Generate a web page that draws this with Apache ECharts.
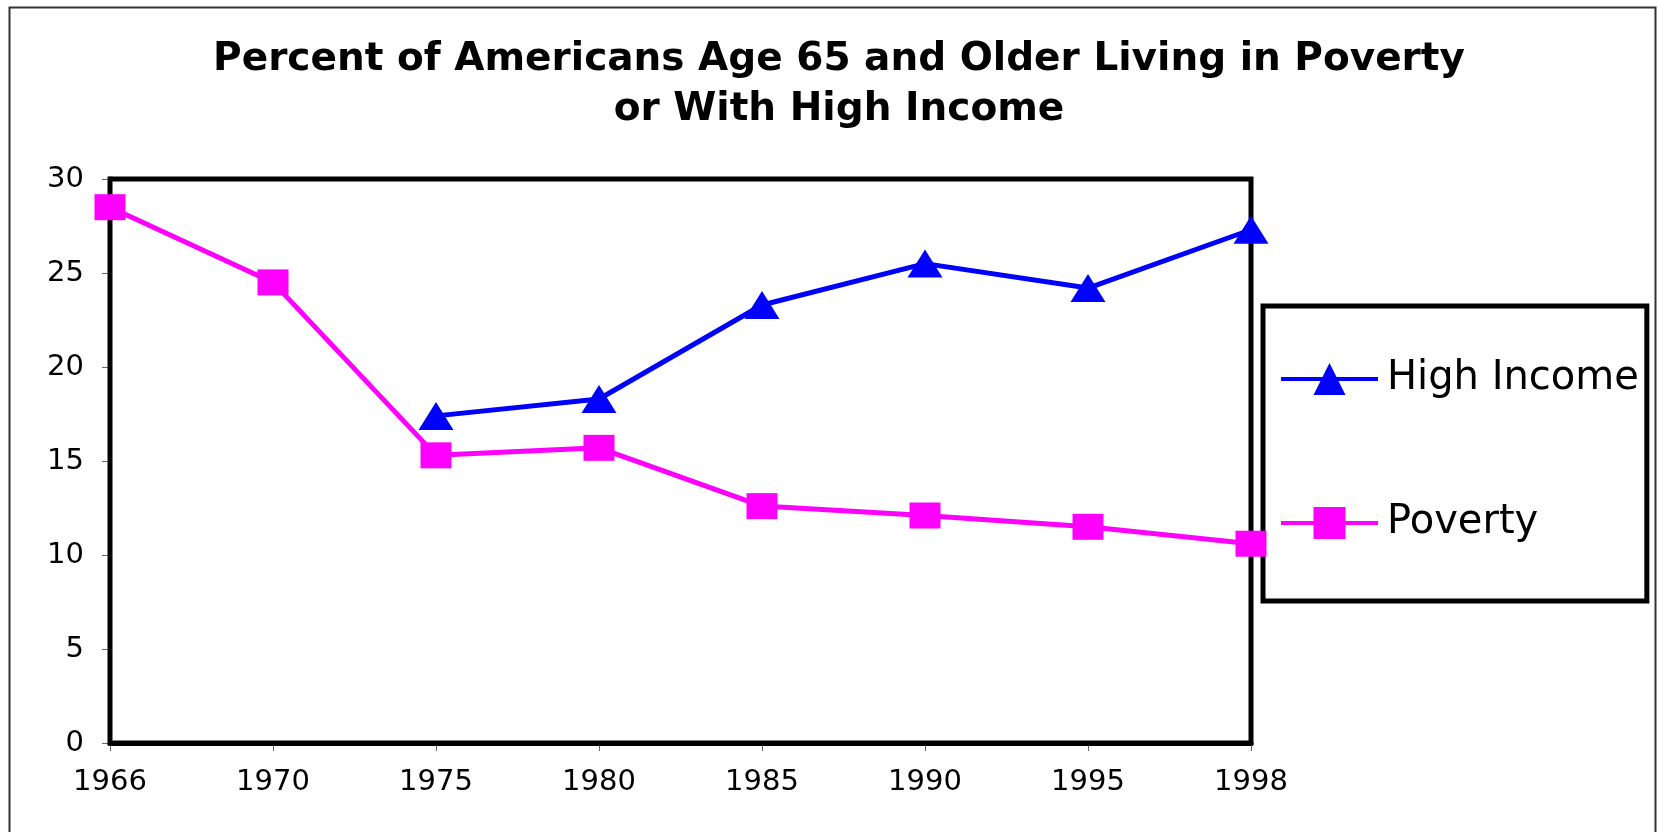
<!DOCTYPE html>
<html>
<head>
<meta charset="utf-8">
<script src="https://cdn.jsdelivr.net/npm/echarts@6/dist/echarts.min.js"></script>
<style>
  html, body { margin: 0; padding: 0; background: #fff; }
  #main { width: 1658px; height: 832px; }
</style>
</head>
<body>
<div id="main"></div>
<script>
var chartDom = document.getElementById('main');
var myChart = echarts.init(chartDom);
var option;

// years on the x axis
const years = ['1966', '1970', '1975', '1980', '1985', '1990', '1995', '1998'];
// percent of Americans 65+
const highIncome = [null, null, 17.4, 18.3, 23.3, 25.5, 24.2, 27.3];
const poverty = [28.5, 24.5, 15.3, 15.7, 12.6, 12.1, 11.5, 10.6];

const fontFamily = 'DejaVu Sans';

option = {
    backgroundColor: '#fff',
    title: {
        text: 'Percent of Americans Age 65 and Older Living in Poverty\nor With High Income',
        left: 834,
        top: 30,
        textAlign: 'center',
        textStyle: {
            fontFamily: fontFamily,
            fontWeight: 'bold',
            fontSize: 39,
            lineHeight: 50,
            color: '#000'
        }
    },
    graphic: [
        {
            type: 'rect',
            shape: { x: 9.5, y: 7.5, width: 1646, height: 900 },
            style: { fill: 'none', stroke: '#333', lineWidth: 2 },
            silent: true
        }
    ],
    legend: {
        orient: 'vertical',
        left: 1263,
        top: 306,
        padding: [53, 8, 58, 16],
        itemGap: 104,
        itemWidth: 97,
        itemHeight: 40,
        borderColor: '#000',
        borderWidth: 5,
        lineStyle: { width: 4 },
        textStyle: {
            fontFamily: fontFamily,
            fontSize: 40,
            lineHeight: 40,
            padding: [0, 0, 0, 4],
            color: '#000'
        },
        data: ['High Income', 'Poverty']
    },
    grid: {
        left: 110,
        right: 407,
        top: 179,
        bottom: 89,
        show: true,
        borderColor: '#000',
        borderWidth: 5,
        backgroundColor: '#fff',
        z: 3
    },
    xAxis: {
        type: 'category',
        data: years,
        boundaryGap: false,
        axisLine: { show: true, lineStyle: { color: '#000', width: 5 } },
        axisTick: { show: true, length: 8, lineStyle: { color: '#666', width: 1 } },
        axisLabel: {
            margin: 24,
            fontFamily: fontFamily,
            fontSize: 29,
            lineHeight: 30,
            color: '#000'
        },
        splitLine: { show: false }
    },
    yAxis: {
        type: 'value',
        min: 0,
        max: 30,
        interval: 5,
        axisLine: { show: true, lineStyle: { color: '#000', width: 5 } },
        axisTick: { show: true, length: 8, lineStyle: { color: '#666', width: 1 } },
        axisLabel: {
            margin: 26,
            fontFamily: fontFamily,
            fontSize: 29,
            color: '#000'
        },
        splitLine: { show: true, lineStyle: { color: '#333', width: 1 } }
    },
    series: [
        {
            name: 'High Income',
            type: 'line',
            data: highIncome,
            connectNulls: false,
            symbol: 'triangle',
            symbolSize: [35, 28],
            color: '#0000ff',
            lineStyle: { color: '#0000ff', width: 5 },
            itemStyle: { color: '#0000ff' },
            z: 4
        },
        {
            name: 'Poverty',
            type: 'line',
            data: poverty,
            symbol: 'rect',
            symbolSize: [31, 26],
            color: '#ff00ff',
            lineStyle: { color: '#ff00ff', width: 5 },
            itemStyle: { color: '#ff00ff' },
            z: 4
        }
    ]
};

option && myChart.setOption(option);
</script>
</body>
</html>
